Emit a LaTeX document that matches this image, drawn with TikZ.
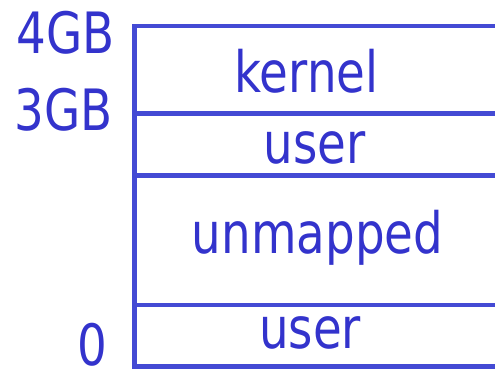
\documentclass[tikz,border=0pt]{standalone}
\usepackage{fontspec}
\setmainfont{DejaVu Sans}
\usepackage{graphicx}
\definecolor{inkline}{RGB}{68,74,212}
\definecolor{inktext}{RGB}{51,51,204}
\newcommand{\narrow}[1]{\scalebox{0.82}[1]{#1}}
\tikzset{
  partline/.style={draw=inkline, line width=4.8pt},
  region/.style={inner sep=0pt, anchor=base, text=inktext, font=\fontsize{57}{60}\selectfont},
  addr/.style={inner sep=0pt, anchor=base east, text=inktext, font=\fontsize{57}{60}\selectfont}
}
\begin{document}
\begin{tikzpicture}[x=1pt,y=-1pt]
  \useasboundingbox (0,0) rectangle (495,368);
  % boundaries of the address space
  \coordinate (tl) at (132,26);
  \coordinate (tr) at (497,26);
  \coordinate (l3) at (134.5,113.5);
  \coordinate (r3) at (497,113.5);
  \coordinate (lu) at (134.5,175.5);
  \coordinate (ru) at (497,175.5);
  \coordinate (lm) at (134.5,305);
  \coordinate (rm) at (497,305);
  \coordinate (bl) at (134.5,368);
  \coordinate (br) at (497,366.5);
  \coordinate (lb) at (132,366.5);
  \draw[partline] (tl) -- (tr);
  \draw[partline] (l3) -- (r3);
  \draw[partline] (lu) -- (ru);
  \draw[partline] (lm) -- (rm);
  \draw[partline] (lb) -- (br);
  \draw[partline] (134.5,24) -- (bl);
  % region labels
  \node[region] (kernel) at (306.5,92) {\narrow{kernel}};
  \node[region] (userhi) at (314.5,163) {\narrow{user}};
  \node[region] (unmapped) at (317.5,253) {\narrow{unmapped}};
  \node[region] (userlo) at (310,348) {\narrow{user}};
  % address labels
  \node[addr] (a4) at (115,53) {\narrow{4GB}};
  \node[addr] (a3) at (113,130) {\narrow{3GB}};
  \node[addr] (a0) at (107,365) {\narrow{0}};
\end{tikzpicture}
\end{document}
